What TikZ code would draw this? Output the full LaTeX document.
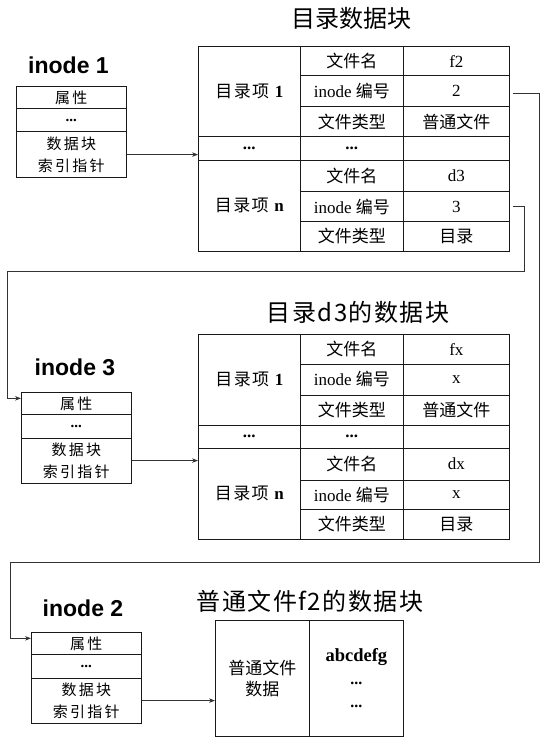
\documentclass[tikz,border=0pt]{standalone}
\usepackage{fontspec}
\setmainfont{Liberation Serif}
\newfontfamily\cjk{Noto Sans CJK SC}
\newfontfamily\cjkls[LetterSpace=15]{Noto Sans CJK SC}
\newfontfamily\cjkitem[LetterSpace=8]{Noto Sans CJK SC}
\newfontfamily\cjktitle[LetterSpace=6]{Noto Sans CJK SC}
\newfontfamily\hdfont{Liberation Sans}
\usetikzlibrary{arrows.meta}

\newcommand\DirTable[8]{%
  \node[cell={102pt}{90.5pt}] (#1A1) at (198,#2) {{\cjkitem 目录项} \textbf{1}};
  \node[cell={102pt}{23.5pt}] (#1Ad) at (198,#2+90.5) {\textbf{...}};
  \node[cell={102pt}{91pt}]   (#1An) at (198,#2+114) {{\cjkitem 目录项} \textbf{n}};
  \node[cell={103pt}{29.5pt}] (#1B1) at (300,#2) {\cjk 文件名};
  \node[cell={103pt}{31pt}]   (#1B2) at (300,#2+29.5) {inode {\cjk 编号}};
  \node[cell={103pt}{30pt}]   (#1B3) at (300,#2+60.5) {\cjk 文件类型};
  \node[cell={103pt}{23.5pt}] (#1Bd) at (300,#2+90.5) {\textbf{...}};
  \node[cell={103pt}{31.5pt}] (#1B5) at (300,#2+114) {\cjk 文件名};
  \node[cell={103pt}{29.5pt}] (#1B6) at (300,#2+145.5) {inode {\cjk 编号}};
  \node[cell={103pt}{30pt}]   (#1B7) at (300,#2+175) {\cjk 文件类型};
  \node[cell={106pt}{29.5pt}] (#1C1) at (403,#2) {#3};
  \node[cell={106pt}{31pt}]   (#1C2) at (403,#2+29.5) {#4};
  \node[cell={106pt}{30pt}]   (#1C3) at (403,#2+60.5) {#5};
  \node[cell={106pt}{23.5pt}] (#1Cd) at (403,#2+90.5) {};
  \node[cell={106pt}{31.5pt}] (#1C5) at (403,#2+114) {#6};
  \node[cell={106pt}{29.5pt}] (#1C6) at (403,#2+145.5) {#7};
  \node[cell={106pt}{30pt}]   (#1C7) at (403,#2+175) {#8};
}

\newcommand\InodeBox[3]{% #1 prefix, #2 x, #3 y
  \node[ibox={22pt}]   (#1a) at (#2,#3) {\cjkls 属性};
  \node[ibox={23.5pt}] (#1b) at (#2,#3+22) {\textbf{...}};
  \node[ibox={45.5pt}] (#1c) at (#2,#3+45.5) {\cjkls 数据块\\\cjkls 索引指针};
}

\begin{document}
\begin{tikzpicture}[x=1pt,y=-1pt,
  cell/.style 2 args={draw=black!90, line width=0.7pt, inner sep=0pt,
    anchor=north west, align=center, minimum width=#1, minimum height=#2,
    font=\fontsize{17}{21}\selectfont},
  ibox/.style={cell={110pt}{#1}, font=\fontsize{15}{22}\selectfont},
  conn/.style={draw=black!80, line width=0.7pt, -{Stealth[length=6pt,width=4.5pt]}},
  title/.style={font=\fontsize{24}{28}\selectfont, inner sep=0pt},
  ilabel/.style={font=\fontsize{23}{26}\selectfont\hdfont\bfseries, inner sep=0pt}
]
\useasboundingbox (0,0) rectangle (546,743);

% titles
\node[title] (title1) at (351,18) {\cjk 目录数据块};
\node[title] (title2) at (358,312) {\cjktitle 目录d3的数据块};
\node[title] (title3) at (310,601) {\cjktitle 普通文件f2的数据块};

% inode labels
\node[ilabel] (lab1) at (68.5,65) {inode 1};
\node[ilabel] (lab3) at (75,367) {inode 3};
\node[ilabel] (lab2) at (83,608) {inode 2};

% inode boxes
\InodeBox{iA}{16}{86}
\InodeBox{iC}{21}{392}
\InodeBox{iB}{31}{632}

% directory tables
\DirTable{t}{46}{f2}{2}{\cjk 普通文件}{d3}{3}{\cjk 目录}
\DirTable{u}{334}{fx}{x}{\cjk 普通文件}{dx}{x}{\cjk 目录}

% file data block
\node[cell={94pt}{116pt}] (fA) at (215,620) {\cjk 普通文件\\\cjk 数据};
\node[cell={94pt}{116pt}, font=\fontsize{18.5}{23}\selectfont] (fB) at (309,620)
  {\textbf{abcdefg}\\{\fontsize{16}{23}\selectfont\textbf{...}}\\{\fontsize{16}{23}\selectfont\textbf{...}}};

% short arrows
\draw[conn] (iAc.east) -- (iAc.east -| tAd.west);
\draw[conn] (iCc.east) -- (iCc.east -| uAn.west);
\draw[conn] (iBc.east) -- (iBc.east -| fA.west);

% long connectors
\coordinate (a1) at (539,562);
\coordinate (a2) at (10,562);
\coordinate (b1) at (524,271);
\coordinate (b2) at (7,271);
\draw[conn] ([xshift=3pt,yshift=-2pt]tC2.east) -| (a1) -- (a2) |- ([yshift=5pt]iBa.west);
\draw[conn] ([xshift=3pt]tC6.east) -| (b1) -- (b2) |- ([yshift=5pt]iCa.west);
\end{tikzpicture}
\end{document}
